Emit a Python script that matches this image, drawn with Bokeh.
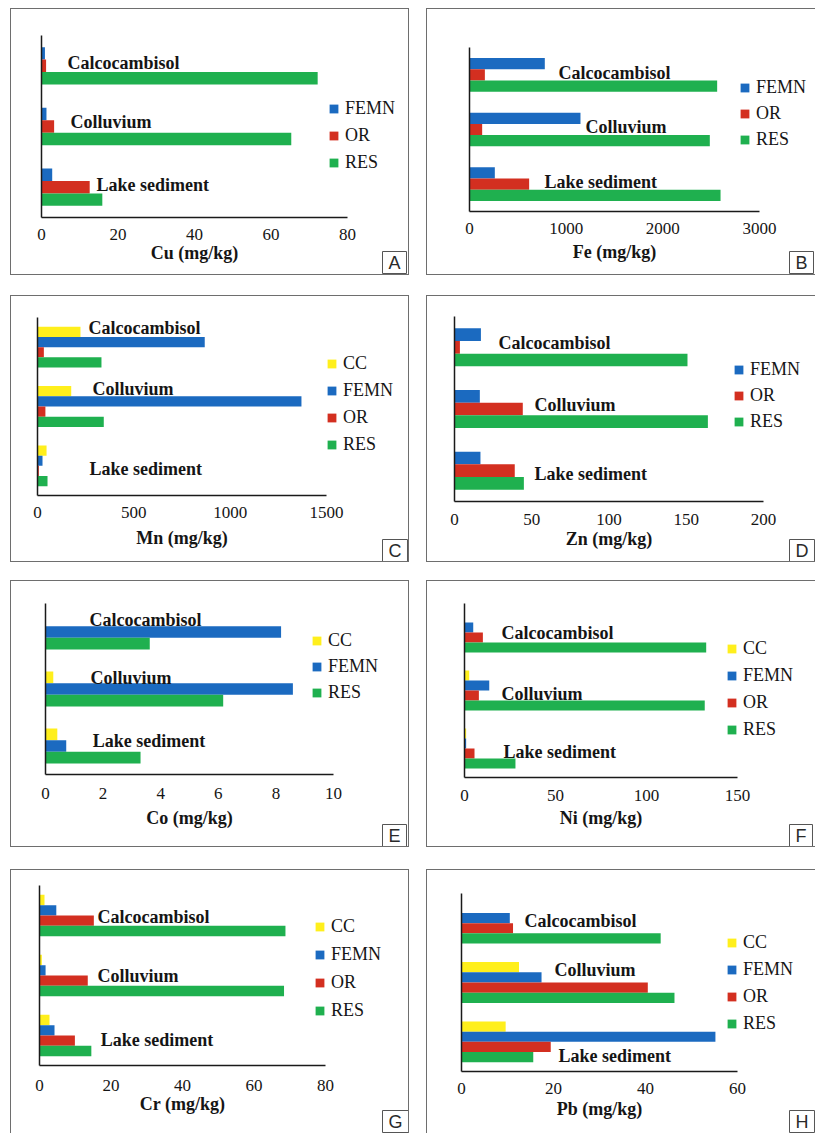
from bokeh.plotting import figure
from bokeh.models import (ColumnDataSource, FixedTicker, Label, Legend,
                          LegendItem, LinearAxis, Range1d)
from bokeh.layouts import column, row
from bokeh.core.properties import value
from bokeh.embed import file_html
from bokeh.resources import INLINE

# ---------------------------------------------------------------------------
# Data: fraction concentrations (mg/kg); order = Calcocambisol, Colluvium, Lake sediment
# ---------------------------------------------------------------------------
soils = ["Calcocambisol", "Colluvium", "Lake sediment"]

cu_femn = [0.9, 1.3, 2.8]
cu_or = [1.2, 3.3, 12.6]
cu_res = [72.2, 65.3, 15.9]

fe_femn = [779, 1148, 262]
fe_or = [159, 131, 617]
fe_res = [2562, 2486, 2597]

mn_cc = [223, 175, 47]
mn_femn = [868, 1370, 26]
mn_or = [33, 41, 7]
mn_res = [332, 344, 52]

zn_femn = [17.1, 16.4, 16.8]
zn_or = [3.5, 44.2, 39.0]
zn_res = [150.8, 164.0, 44.9]

co_cc = [0.0, 0.27, 0.41]
co_femn = [8.18, 8.59, 0.72]
co_res = [3.62, 6.17, 3.30]

ni_cc = [0.0, 2.6, 0.9]
ni_femn = [4.8, 13.6, 0.9]
ni_or = [10.1, 7.9, 5.5]
ni_res = [132.8, 132.0, 28.0]

cr_cc = [1.4, 0.65, 2.8]
cr_femn = [4.7, 1.7, 4.2]
cr_or = [15.2, 13.5, 9.9]
cr_res = [68.8, 68.4, 14.5]

pb_cc = [0.0, 12.5, 9.6]
pb_femn = [10.5, 17.4, 55.2]
pb_or = [11.2, 40.5, 19.4]
pb_res = [43.3, 46.3, 15.6]

cu_ticks = [0, 20, 40, 60, 80]
fe_ticks = [0, 1000, 2000, 3000]
mn_ticks = [0, 500, 1000, 1500]
zn_ticks = [0, 50, 100, 150, 200]
co_ticks = [0, 2, 4, 6, 8, 10]
ni_ticks = [0, 50, 100, 150]
cr_ticks = [0, 20, 40, 60, 80]
pb_ticks = [0, 20, 40, 60]

# ---------------------------------------------------------------------------
# Styling
# ---------------------------------------------------------------------------
COLORS = {"CC": "#FFEF1C", "FEMN": "#1B6AC0", "OR": "#D32F20", "RES": "#1FB04F"}
SERIF = "Liberation Serif"
SANS = "Liberation Sans"
INK = "#151515"

# Page geometry of every panel (pixels): element origin/size, bar area
# (left, top, right, bottom), legend (square left, first item centre, pitch),
# tick/title centre offsets below the axis, corner box (left, top), and the
# in-plot soil labels (x in data units, y offset in category units).
panels = [
    dict(letter="A", title="Cu (mg/kg)", ticks=cu_ticks,
         series=[("FEMN", cu_femn), ("OR", cu_or), ("RES", cu_res)],
         origin=(11, 9), size=(397, 265), frame=(41, 35, 347, 217),
         legend=(329, 108, 27), tick_c=20, title_c=38, box=(382, 251),
         labels=[(6.8, 0.054), (7.6, 0.082), (14.4, 0.033)]),
    dict(letter="B", title="Fe (mg/kg)", ticks=fe_ticks,
         series=[("FEMN", fe_femn), ("OR", fe_or), ("RES", fe_res)],
         origin=(427, 9), size=(388, 265), frame=(469, 47, 759, 211),
         legend=(740, 87, 26), tick_c=20, title_c=45, box=(789, 251),
         labels=[(921, 0.037), (1200, 0.037), (776, 0.037)]),
    dict(letter="C", title="Mn (mg/kg)", ticks=mn_ticks,
         series=[("CC", mn_cc), ("FEMN", mn_femn), ("OR", mn_or), ("RES", mn_res)],
         origin=(11, 296), size=(397, 265), frame=(37, 317, 326, 495),
         legend=(327, 363, 27), tick_c=20, title_c=47, box=(382, 539),
         labels=[(265, 0.315), (285, 0.287), (270, -0.05)]),
    dict(letter="D", title="Zn (mg/kg)", ticks=zn_ticks,
         series=[("FEMN", zn_femn), ("OR", zn_or), ("RES", zn_res)],
         origin=(427, 296), size=(388, 265), frame=(454, 316, 763, 501),
         legend=(734, 369, 26), tick_c=21, title_c=42, box=(789, 539),
         labels=[(28.5, 0.065), (51.8, 0.057), (51.8, -0.049)]),
    dict(letter="E", title="Co (mg/kg)", ticks=co_ticks,
         series=[("CC", co_cc), ("FEMN", co_femn), ("RES", co_res)],
         origin=(11, 581), size=(397, 265), frame=(45, 603, 333, 774),
         legend=(312, 640, 26), tick_c=22, title_c=48, box=(382, 824),
         labels=[(1.53, 0.219), (1.56, 0.2), (1.64, 0.079)]),
    dict(letter="F", title="Ni (mg/kg)", ticks=ni_ticks,
         series=[("CC", ni_cc), ("FEMN", ni_femn), ("OR", ni_or), ("RES", ni_res)],
         origin=(427, 581), size=(388, 265), frame=(464, 603, 737, 777),
         legend=(727, 648, 27), tick_c=21, title_c=45, box=(789, 824),
         labels=[(20.3, -0.017), (20.3, -0.052), (21.4, -0.052)]),
    dict(letter="G", title="Cr (mg/kg)", ticks=cr_ticks,
         series=[("CC", cr_cc), ("FEMN", cr_femn), ("OR", cr_or), ("RES", cr_res)],
         origin=(11, 870), size=(397, 263), frame=(39, 885, 325, 1065),
         legend=(315, 926, 28), tick_c=23, title_c=42, box=(382, 1110),
         labels=[(16.2, -0.033), (16.2, 0.0), (17.1, -0.083)]),
    dict(letter="H", title="Pb (mg/kg)", ticks=pb_ticks,
         series=[("CC", pb_cc), ("FEMN", pb_femn), ("OR", pb_or), ("RES", pb_res)],
         origin=(427, 870), size=(388, 263), frame=(461, 893, 737, 1071),
         legend=(727, 942, 27), tick_c=20, title_c=42, box=(789, 1110),
         labels=[(13.7, 0.034), (20.2, 0.219), (21.1, -0.236)]),
]

NCAT = len(soils)
# category centres on a numeric y scale, first soil on top
centre = {s: NCAT - 0.5 - i for i, s in enumerate(soils)}


def make_panel(spec, margin):
    ox, oy = spec["origin"]
    w, h = spec["size"]
    fl, ft, fr, fb = spec["frame"]
    ticks = spec["ticks"]
    xmax = ticks[-1]

    # the plot frame fills the whole panel; ranges are chosen so that the
    # bar area (0..xmax, 0..NCAT) sits where the axes are drawn
    kx = (fr - fl) / xmax
    ky = (fb - ft) / NCAT
    x_range = Range1d(-(fl - ox) / kx, xmax + (ox + w - fr) / kx)
    y_range = Range1d(-(oy + h - fb) / ky, NCAT + (ft - oy) / ky)

    p = figure(width=w, height=h, x_range=x_range, y_range=y_range,
               x_axis_type=None, y_axis_type=None,
               min_border=0, min_border_left=0, min_border_right=0,
               min_border_top=0, min_border_bottom=0,
               output_backend="svg", toolbar_location=None, margin=margin,
               background_fill_color="white", border_fill_color="white",
               outline_line_color=None,
               styles={"outline": "1px solid #6e6e6e"})
    p.xgrid.visible = False
    p.ygrid.visible = False

    # value axis along the bottom of the bar area
    xa = LinearAxis(fixed_location=0, bounds=(0, xmax),
                    ticker=FixedTicker(ticks=ticks), axis_label=spec["title"])
    xa.axis_label_text_font = SERIF
    xa.axis_label_text_font_style = "bold"
    xa.axis_label_text_font_size = "18px"
    xa.axis_label_text_color = INK
    xa.axis_label_standoff = max(0, spec["title_c"] - spec["tick_c"] - 20)
    xa.major_label_text_font = SERIF
    xa.major_label_text_font_size = "17px"
    xa.major_label_text_color = INK
    xa.major_label_standoff = spec["tick_c"] - 9
    xa.major_tick_line_color = None
    xa.minor_tick_line_color = None
    xa.major_tick_in = 0
    xa.major_tick_out = 0
    xa.axis_line_color = "#1a1a1a"
    xa.axis_line_width = 1.5
    p.add_layout(xa, "below")

    # bare vertical axis line at x = 0
    ya = LinearAxis(fixed_location=0, bounds=(0, NCAT), ticker=FixedTicker(ticks=[]))
    ya.major_tick_line_color = None
    ya.minor_tick_line_color = None
    ya.major_tick_in = 0
    ya.major_tick_out = 0
    ya.axis_line_color = "#1a1a1a"
    ya.axis_line_width = 1.5
    p.add_layout(ya, "left")

    n = len(spec["series"])
    bar_h = 0.205 if n == 3 else 0.172
    items = []
    for i, (name, vals) in enumerate(spec["series"]):
        off = ((n - 1) / 2 - i) * bar_h
        src = ColumnDataSource(dict(soil=soils, val=vals,
                                    y=[centre[s] + off for s in soils]))
        r = p.hbar(y="y", left=0, right="val", height=bar_h, source=src,
                   fill_color=COLORS[name], line_color=None)
        items.append(LegendItem(label=name, renderers=[r]))

    lab = ColumnDataSource(dict(
        x=[lx for lx, _ in spec["labels"]],
        y=[centre[s] + dy for s, (_, dy) in zip(soils, spec["labels"])],
        name=soils))
    p.text(x="x", y="y", text="name", source=lab,
           text_font=value(SERIF), text_font_style="bold",
           text_font_size="18px", text_color=INK,
           text_align="left", text_baseline="middle")

    sq_left, first_c, pitch = spec["legend"]
    lh = 24
    spacing = pitch - lh
    top = first_c - lh / 2
    bottom = top + len(items) * lh + (len(items) - 1) * spacing
    legend = Legend(items=items, location=(sq_left - 1 - ox, oy + h - bottom),
                    glyph_width=11, glyph_height=11, label_height=lh,
                    label_standoff=6, spacing=spacing, padding=0, margin=0,
                    border_line_color=None, background_fill_alpha=0,
                    label_text_font=SERIF, label_text_font_size="18px",
                    label_text_color=INK)
    p.add_layout(legend)

    # boxed panel letter in the lower right corner
    bx, by = spec["box"]
    p.add_layout(Label(x=bx - ox, y=oy + h - by, x_units="screen", y_units="screen",
                       text=spec["letter"], anchor="top_left",
                       text_font=SANS, text_font_size="18px", text_color="#2a2a2a",
                       padding=(6, 1), border_line_color="#555555",
                       border_line_width=1, background_fill_color="white"))
    return p


row_tops = [9, 22, 20, 24]
rows = []
for k in range(4):
    left = make_panel(panels[2 * k], (row_tops[k], 0, 0, 11))
    right = make_panel(panels[2 * k + 1], (row_tops[k], 0, 0, 19))
    rows.append(row(left, right))

page = column(*rows)

open("out.html", "w").write(file_html(page, INLINE, title="Metal fractions by soil type"))
